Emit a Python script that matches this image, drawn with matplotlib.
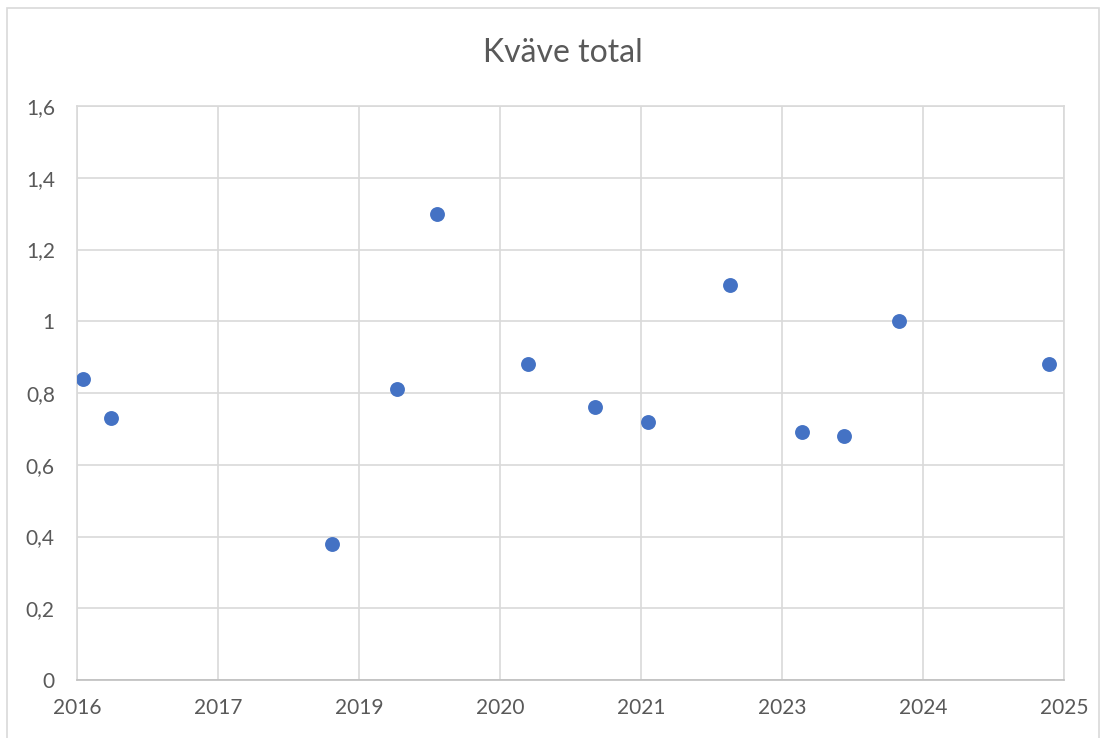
import matplotlib.pyplot as plt
import matplotlib.dates as mdates
from matplotlib.patches import Rectangle
import pandas as pd

# sampling dates and total nitrogen values
dates = ['2016-07-20', '2016-10-23', '2018-11-14', '2019-06-24', '2019-11-06',
         '2020-09-12', '2021-04-28', '2021-10-25', '2022-07-31', '2023-04-02',
         '2023-08-23', '2024-02-26', '2025-07-21']
kvave = [0.84, 0.73, 0.38, 0.81, 1.30, 0.88, 0.76, 0.72, 1.10, 0.69, 0.68, 1.00, 0.88]

# excel date axis: start date, 480 day major unit
axis_start = '2016-06-29'
major_days = 480
n_major = 7
x_labels = ['2016', '2017', '2019', '2020', '2021', '2023', '2024', '2025']
y_ticks = [0, 0.2, 0.4, 0.6, 0.8, 1.0, 1.2, 1.4, 1.6]
y_labels = ['0', '0,2', '0,4', '0,6', '0,8', '1', '1,2', '1,4', '1,6']

plt.rcParams['font.family'] = ['Lato', 'DejaVu Sans']

W, H = 1106, 738
fig = plt.figure(figsize=(W / 100, H / 100), dpi=100)
ax = fig.add_axes([77 / W, 1 - 680 / H, (1064 - 77) / W, (680 - 106) / H])

x = mdates.date2num(pd.to_datetime(dates))
x0 = mdates.date2num(pd.Timestamp(axis_start))
ticks = [x0 + k * major_days for k in range(n_major + 1)]

ax.scatter(x, kvave, s=115, color='#4472C4', zorder=3, linewidths=0)

ax.set_xlim(ticks[0], ticks[-1])
ax.set_ylim(0, 1.6)
ax.set_xticks(ticks)
ax.set_xticklabels(x_labels)
ax.set_yticks(y_ticks)
ax.set_yticklabels(y_labels)

ax.grid(True, color='#d9d9d9', linewidth=1.2)
ax.set_axisbelow(True)
for side in ['top', 'right', 'left']:
    ax.spines[side].set_color('#d9d9d9')
    ax.spines[side].set_linewidth(1.2)
ax.spines['bottom'].set_color('#bfbfbf')
ax.spines['bottom'].set_linewidth(1.2)
ax.tick_params(length=0, labelsize=15, colors='#595959')
ax.tick_params(axis='x', pad=13)
ax.tick_params(axis='y', pad=16)

fig.text(563 / W, 1 - 53 / H, 'Kväve total', ha='center', va='center',
         fontsize=23, color='#595959')

# chart border
fig.patches.append(Rectangle((7 / W, -0.1), (1099 - 7) / W, 1.1 - 8 / H,
                             transform=fig.transFigure, fill=False,
                             edgecolor='#d9d9d9', linewidth=1.2))

fig.savefig('out.png', dpi=100)
